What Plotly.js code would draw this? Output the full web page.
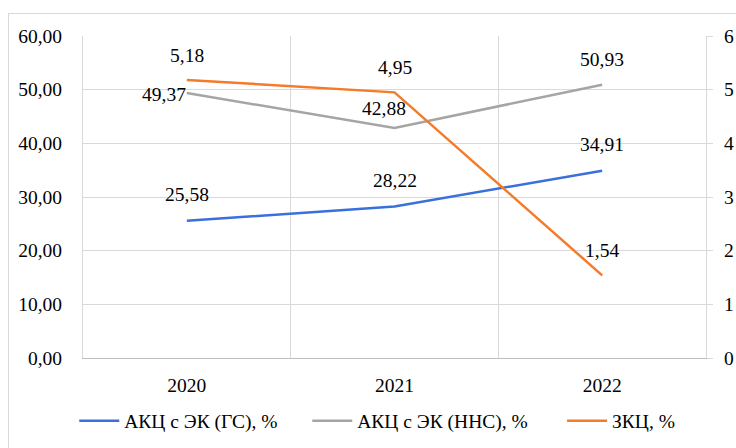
<!DOCTYPE html>
<html><head><meta charset="utf-8">
<script src="https://cdn.plot.ly/plotly-3.0.1.min.js"></script>
<style>
html,body{margin:0;padding:0;background:#fff;}
#wrap{position:relative;width:736px;height:448px;overflow:hidden;}
#chart{width:736px;height:448px;}
#frame{position:absolute;left:8px;top:13px;width:800px;height:500px;border:1px solid #d9d9d9;pointer-events:none;}
</style></head>
<body><div id="wrap"><div id="chart"></div><div id="frame"></div></div>
<script>
const years = ['2020','2021','2022'];
const akcGS = [25.58, 28.22, 34.91];
const akcNNS = [49.37, 42.88, 50.93];
const zkc = [5.18, 4.95, 1.54];
const names = ['АКЦ с ЭК (ГС), %', 'АКЦ с ЭК (ННС), %', 'ЗКЦ, %'];
const colors = ['#3a70dc', '#a5a5a5', '#f47b2a'];

const fmt = v => v.toFixed(2).replace('.', ',');
const FAM = 'Liberation Serif';
const mkFont = () => ({family: FAM, size: 19.5, color: '#000'});

const traces = [
  {x: years, y: akcGS, name: names[0], type: 'scatter', mode: 'lines', line: {color: colors[0], width: 2.5}, yaxis: 'y', legend: 'legend'},
  {x: years, y: akcNNS, name: names[1], type: 'scatter', mode: 'lines', line: {color: colors[1], width: 2.5}, yaxis: 'y', legend: 'legend2'},
  {x: years, y: zkc, name: names[2], type: 'scatter', mode: 'lines', line: {color: colors[2], width: 2.5}, yaxis: 'y2', legend: 'legend3'}
];

const annotations = [];
years.forEach((yr, i) => {
  annotations.push({x: i, y: akcGS[i], xref: 'x', yref: 'y', text: fmt(akcGS[i]), showarrow: false, yshift: 26, font: mkFont()});
  annotations.push({x: i, y: zkc[i], xref: 'x', yref: 'y2', text: fmt(zkc[i]), showarrow: false, yshift: 25, font: mkFont()});
});
annotations.push({x: 0, y: akcNNS[0], xref: 'x', yref: 'y', text: fmt(akcNNS[0]), showarrow: false, xanchor: 'right', xshift: 1, yshift: -1, font: mkFont()});
annotations.push({x: 1, y: akcNNS[1], xref: 'x', yref: 'y', text: fmt(akcNNS[1]), showarrow: false, xshift: -11, yshift: 19, font: mkFont()});
annotations.push({x: 2, y: akcNNS[2], xref: 'x', yref: 'y', text: fmt(akcNNS[2]), showarrow: false, yshift: 25, font: mkFont()});

const legBase = {orientation: 'h', xanchor: 'left', yanchor: 'middle', yref: 'container', y: 0.06, font: mkFont(), itemwidth: 40, bgcolor: 'rgba(0,0,0,0)'};

const layout = {
  width: 736, height: 448,
  margin: {l: 83, r: 30, t: 36, b: 90},
  paper_bgcolor: '#fff', plot_bgcolor: '#fff',
  separators: ', ',
  font: mkFont(),
  showlegend: true,
  legend: Object.assign({}, legBase, {x: -0.014}),
  legend2: Object.assign({}, legBase, {x: 0.360}),
  legend3: Object.assign({}, legBase, {x: 0.769}),
  xaxis: {type: 'category', range: [-0.5, 2.5], tickson: 'boundaries', showgrid: true, gridcolor: '#d9d9d9', gridwidth: 1,
          showline: true, linecolor: '#bfbfbf', linewidth: 1, ticks: '', tickfont: mkFont(), ticklabelstandoff: 10, zeroline: false},
  yaxis: {range: [0, 60], dtick: 10, tickformat: '.2f', showgrid: true, gridcolor: '#d9d9d9', gridwidth: 1,
          zeroline: false, showline: true, linecolor: '#d9d9d9', linewidth: 1, ticks: '', tickfont: mkFont(), ticklabelstandoff: 16},
  yaxis2: {range: [0, 6], dtick: 1, tickformat: 'd', overlaying: 'y', side: 'right', showgrid: false, zeroline: false,
           showline: true, linecolor: '#d9d9d9', linewidth: 1, ticks: 'outside', ticklen: 6, tickcolor: '#d9d9d9',
           tickfont: mkFont(), ticklabelstandoff: 7},
  annotations: annotations
};

Plotly.newPlot('chart', traces, layout, {displayModeBar: false, staticPlot: true});
</script></body></html>
